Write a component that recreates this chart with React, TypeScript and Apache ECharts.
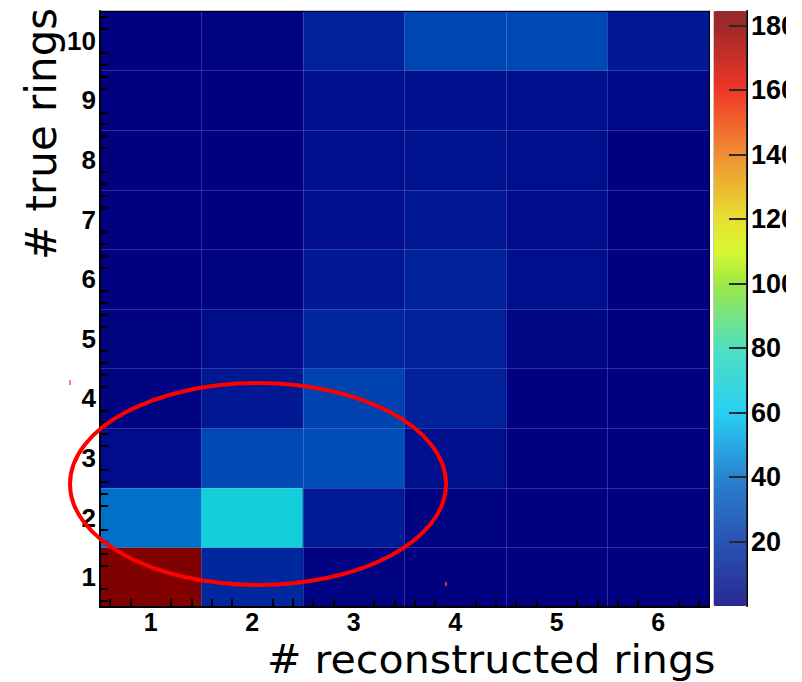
import React, { useEffect, useRef } from "react";
import * as echarts from "echarts";

// ---- data ----
const recoRings = ["1", "2", "3", "4", "5", "6"];
const trueRings = ["1", "2", "3", "4", "5", "6", "7", "8", "9", "10"];
// counts per "true rings" row, columns = reconstructed rings 1..6
const trueRings1 = [184, 16, 1, 0, 0, 0];
const trueRings2 = [41, 68, 11, 1, 0, 0];
const trueRings3 = [5, 28, 30, 6, 0, 0];
const trueRings4 = [1, 10, 26, 13, 0, 0];
const trueRings5 = [1, 5, 16, 13, 3, 0];
const trueRings6 = [0, 1, 10, 14, 6, 0];
const trueRings7 = [0, 0, 6, 10, 5, 0];
const trueRings8 = [0, 0, 6, 8, 6, 0];
const trueRings9 = [0, 0, 6, 7, 6, 4];
const trueRings10 = [0, 1, 13, 27, 28, 10];
const rows = [
  trueRings1, trueRings2, trueRings3, trueRings4, trueRings5,
  trueRings6, trueRings7, trueRings8, trueRings9, trueRings10,
];
const zMax = 184.5;
const zTicks = [20, 40, 60, 80, 100, 120, 140, 160, 180];

// ---- palette (style) ----
const paletteStops: [number, string][] = [
  [0, "#000080"],
  [20, "#0032a6"],
  [40, "#006cc7"],
  [60, "#00c7f3"],
  [80, "#2ddab4"],
  [100, "#8de421"],
  [110, "#d0f70a"],
  [120, "#e4da0a"],
  [140, "#ed7a0a"],
  [160, "#ed1000"],
  [180, "#8d0000"],
  [184.5, "#800000"],
];

function hexToRgb(h: string) {
  const n = parseInt(h.slice(1), 16);
  return [(n >> 16) & 255, (n >> 8) & 255, n & 255];
}
function colorAt(v: number) {
  for (let i = 1; i < paletteStops.length; i++) {
    const [v1, c1] = paletteStops[i];
    const [v0, c0] = paletteStops[i - 1];
    if (v <= v1) {
      const t = (v - v0) / (v1 - v0);
      const a = hexToRgb(c0);
      const b = hexToRgb(c1);
      const r = a.map((x, k) => Math.round(x + (b[k] - x) * t));
      return `rgb(${r[0]},${r[1]},${r[2]})`;
    }
  }
  return paletteStops[paletteStops.length - 1][1];
}
function buildPalette(n: number) {
  const out: string[] = [];
  for (let i = 0; i < n; i++) out.push(colorAt((i * zMax) / (n - 1)));
  return out;
}
function minorTicks(lo: number, hi: number) {
  const out: number[] = [];
  for (let k = 0; ; k++) {
    const v = Math.round((lo + 0.1 + 0.2 * k) * 10) / 10;
    if (v >= hi) break;
    if (Math.abs(v - Math.round(v)) > 1e-6) out.push(v);
  }
  return out;
}

export default function App() {
  const ref = useRef<HTMLDivElement>(null);
  useEffect(() => {
    if (!ref.current) return;
    const chart = echarts.init(ref.current, null, { renderer: "svg" });
    const heatData: number[][] = [];
    rows.forEach((row, yi) => row.forEach((v, xi) => heatData.push([xi, yi, v])));
    const labelFont = { fontFamily: "Liberation Sans", fontWeight: "bold" as const, color: "#000" };
    const tickStyle = { color: "#000", width: 2 };
    const gridLine = { color: "rgba(200,210,255,0.22)", width: 1 };

    chart.setOption({
      animation: false,
      grid: [
        { left: 100, top: 11, width: 609, height: 596, show: true, backgroundColor: "#000080", borderWidth: 0 },
        { left: 713, top: 11, width: 34, height: 595, show: false },
      ],
      xAxis: [
        {
          type: "category", data: recoRings, gridIndex: 0, position: "bottom", z: 5,
          axisLine: { onZero: false, lineStyle: { color: "#000", width: 2 } },
          axisTick: { alignWithLabel: true, inside: true, length: 17, lineStyle: tickStyle },
          axisLabel: { ...labelFont, fontSize: 25, margin: 2 },
          splitLine: { show: true, interval: 0, lineStyle: gridLine },
        },
        {
          type: "value", min: 0.5, max: 6.5, gridIndex: 0, position: "bottom", z: 5,
          axisLine: { show: false, onZero: false },
          axisTick: { show: true, inside: true, length: 8, lineStyle: tickStyle, customValues: minorTicks(0.5, 6.5) },
          axisLabel: { show: false },
          splitLine: { show: false },
        },
        {
          type: "value", min: 0.5, max: 6.5, gridIndex: 0, position: "top", z: 6,
          axisLine: { show: true, onZero: false, lineStyle: { color: "#000", width: 1 } },
          axisTick: { show: false }, axisLabel: { show: false }, splitLine: { show: false },
        },
        { type: "value", min: 0, max: 1, gridIndex: 1, show: false },
      ],
      yAxis: [
        {
          type: "category", data: trueRings, gridIndex: 0, position: "left", z: 5,
          axisLine: { onZero: false, lineStyle: { color: "#000", width: 2 } },
          axisTick: { alignWithLabel: true, inside: true, length: 17, lineStyle: tickStyle },
          axisLabel: { ...labelFont, fontSize: 26, margin: 4 },
          splitLine: { show: true, interval: 0, lineStyle: gridLine },
        },
        {
          type: "value", min: 0.5, max: 10.5, gridIndex: 0, position: "left", z: 5,
          axisLine: { show: false, onZero: false },
          axisTick: { show: true, inside: true, length: 8, lineStyle: tickStyle, customValues: minorTicks(0.5, 10.5) },
          axisLabel: { show: false },
          splitLine: { show: false },
        },
        {
          type: "value", min: 0.5, max: 10.5, gridIndex: 0, position: "right", z: 6,
          axisLine: { show: true, onZero: false, lineStyle: { color: "#000", width: 1 } },
          axisTick: { show: false }, axisLabel: { show: false }, splitLine: { show: false },
        },
        {
          type: "value", min: 0, max: zMax, gridIndex: 1, position: "right", z: 10,
          axisLine: { show: true, onZero: false, lineStyle: { color: "#000", width: 2 } },
          axisTick: { show: true, inside: true, length: 18, lineStyle: tickStyle, customValues: zTicks },
          axisLabel: { ...labelFont, fontSize: 27, margin: 4, customValues: zTicks },
          splitLine: { show: false },
        },
      ],
      visualMap: {
        type: "continuous", min: 0, max: zMax, seriesIndex: 0, calculable: false,
        show: true, left: 713, top: 11, itemWidth: 34, itemHeight: 595, padding: 0,
        text: null, hoverLink: false,
        inRange: { color: buildPalette(124) },
      },
      series: [
        {
          type: "heatmap", xAxisIndex: 0, yAxisIndex: 0, data: heatData,
          emphasis: { disabled: true }, itemStyle: { borderWidth: 0 },
        },
      ],
      graphic: [
        { type: "rect", z: 50, silent: true, shape: { x: 713, y: 11, width: 34, height: 595 }, style: { fill: "rgba(255,255,255,0.16)" } },
        { type: "line", z: 50, silent: true, shape: { x1: 713.5, y1: 11, x2: 713.5, y2: 606 }, style: { stroke: "#c8c8c8", lineWidth: 1 } },
        {
          type: "ellipse", z: 100, silent: true,
          shape: { cx: 258, cy: 484, rx: 188, ry: 101 },
          style: { fill: "none", stroke: "#ff0000", lineWidth: 4 },
        },
        { type: "rect", z: 100, silent: true, shape: { x: 69, y: 380, width: 2, height: 5 }, style: { fill: "#ff8080" } },
        { type: "rect", z: 100, silent: true, shape: { x: 445, y: 582, width: 2, height: 4 }, style: { fill: "#e03030" } },
        {
          type: "text", z: 100, silent: true, x: 41, y: 260, rotation: Math.PI / 2,
          style: { text: "# true rings", fontSize: 42, fontFamily: "DejaVu Sans", fill: "#000", align: "left", verticalAlign: "middle" },
        },
        {
          type: "text", z: 100, silent: true, x: 267, y: 659.5, scaleX: 1.055,
          style: { text: "# reconstructed rings", fontSize: 39, fontFamily: "DejaVu Sans", fill: "#000", align: "left", verticalAlign: "middle" },
        },
        { type: "rect", z: 200, silent: true, shape: { x: 786, y: 0, width: 16, height: 682 }, style: { fill: "#ffffff" } },
      ],
    });
    return () => chart.dispose();
  }, []);
  return (
    <div
      ref={ref}
      style={{ position: "fixed", left: 0, top: 0, width: 802, height: 682, background: "#fff" }}
    />
  );
}
